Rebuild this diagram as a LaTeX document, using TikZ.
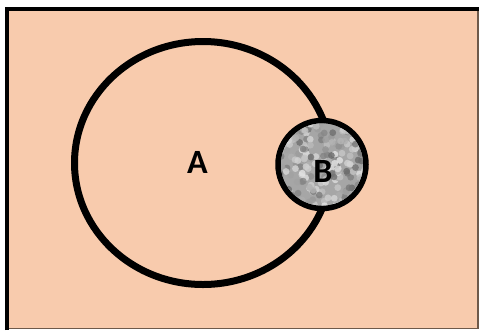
\documentclass[tikz,border=0pt]{standalone}
\usepackage{fontspec}
\setmainfont{Carlito}
\usepackage{tikz}
\usetikzlibrary{shapes.geometric}
\definecolor{vennPeach}{RGB}{248,203,173}
\definecolor{vennEdge}{RGB}{110,90,75}
\tikzset{
  setA/.style={ellipse, draw=black, line width=7pt, minimum width=257pt,
    minimum height=243pt, inner sep=0pt},
  setB/.style={circle, draw=black, line width=5.5pt, minimum size=88pt,
    inner sep=0pt, fill=black!35},
  setlabel/.style={font=\fontsize{34}{40}\selectfont\bfseries, inner sep=0pt,
    anchor=base}
}
\begin{document}
\begin{tikzpicture}[x=1pt, y=-1pt]
\useasboundingbox (0,0) rectangle (479,330);

% Universe
\fill[vennPeach] (7,9) rectangle (478,328.5);
\draw[vennEdge, line width=1.2pt] (478,9) -- (478,328.5) -- (7,328.5);
\draw[line width=4pt] (7,330) -- (7,9) -- (479,9);

% Sets
\node[setA] (A) at (203,163) {};
\node[setB] (B) at (322,164.5) {};

% Texture of B
\begin{scope}
  \clip (B.center) circle (41pt);
  \pgfmathsetseed{11}
  \foreach \i in {1,...,260}{
    \pgfmathsetmacro\px{322+46*rand}
    \pgfmathsetmacro\py{164.5+46*rand}
    \pgfmathsetmacro\tone{int(10+50*rnd)}
    \fill[black!\tone, opacity=0.8] (\px,\py) circle (3.4pt);
  }
\end{scope}

% Labels
\node[setlabel] (labA) at (197.5,173) {A};
\node[setlabel] (labB) at (323,182) {B};

\end{tikzpicture}
\end{document}
